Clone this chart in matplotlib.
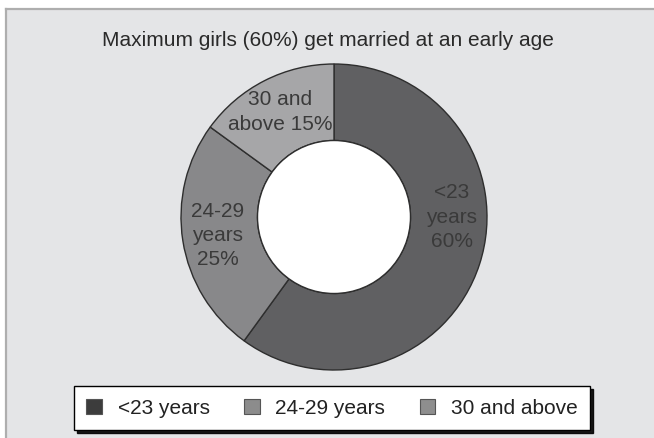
import numpy as np
import matplotlib.pyplot as plt
from matplotlib.patches import Rectangle, Patch
from matplotlib.lines import Line2D

plt.rcParams['font.family'] = ['Liberation Sans', 'DejaVu Sans']

categories = ['<23 years', '24-29 years', '30 and above']
shares = [60, 25, 15]
slice_labels = ['<23\nyears\n60%', '24-29\nyears\n25%', '30 and\nabove 15%']
title = 'Maximum girls (60%) get married at an early age'

wedge_colors = ['#606062', '#88888a', '#a6a6a8']
legend_colors = ['#3c3c3c', '#8c8c8c', '#8e8e8e']
label_nudge = [18, 0, 0]  # degrees, keeps the first label level

fig = plt.figure(figsize=(6.54, 4.38), dpi=100, facecolor='white')
W, H = 654, 438

# grey panel with a darker top/left edge
fig.patches.append(Rectangle((6 / W, 0), 1, 1 - 9 / H, transform=fig.transFigure,
                             facecolor='#e4e5e7', edgecolor='none', zorder=-5))
fig.lines.append(Line2D([6 / W, 1], [1 - 9 / H, 1 - 9 / H], transform=fig.transFigure,
                        color='#aeaeae', lw=1.6, zorder=-4))
fig.lines.append(Line2D([6 / W, 6 / W], [0, 1 - 9 / H], transform=fig.transFigure,
                        color='#aeaeae', lw=1.6, zorder=-4))

fig.text(328 / W, 1 - 40 / H, title, ha='center', va='center', fontsize=15, color='#2a2a2a')

# donut axes: centre (334, 217) px, outer radius 153 px
cx, cy, r = 334, 217, 153
half = 160
ax = fig.add_axes([(cx - half) / W, 1 - (cy + half) / H, 2 * half / W, 2 * half / H])

wedges, _ = ax.pie(shares, colors=wedge_colors, startangle=90, counterclock=False,
                   radius=1, wedgeprops=dict(width=0.5, edgecolor='#2e2e2e', linewidth=1))
ax.add_patch(plt.Circle((0, 0), 0.5, facecolor='white', edgecolor='#2e2e2e', lw=1, zorder=3))
# pie() resets the limits, so set them afterwards
ax.set_xlim(-half / r, half / r)
ax.set_ylim(-half / r, half / r)
ax.set_aspect('equal')
ax.axis('off')

for w, lab, nudge in zip(wedges, slice_labels, label_nudge):
    ang = np.deg2rad((w.theta1 + w.theta2) / 2 + nudge)
    ax.text(0.77 * np.cos(ang), 0.77 * np.sin(ang), lab, ha='center', va='center',
            multialignment='center', fontsize=15, color='#3a3a3a', linespacing=1.35)

handles = [Patch(facecolor=c, edgecolor='#555555', lw=0.8) for c in legend_colors]
leg = fig.legend(handles, categories, loc='center', bbox_to_anchor=(332 / W, 1 - 408 / H),
                 ncol=3, fontsize=15, frameon=True, fancybox=False, shadow={'color': 'black', 'alpha': 0.9},
                 edgecolor='black', framealpha=1, handlelength=0.75, handleheight=0.75,
                 columnspacing=1.65, handletextpad=0.75, borderpad=0.6)
leg.get_frame().set_linewidth(1.0)
for t in leg.get_texts():
    t.set_color('#222222')

fig.savefig('out.png', dpi=100, facecolor=fig.get_facecolor())
